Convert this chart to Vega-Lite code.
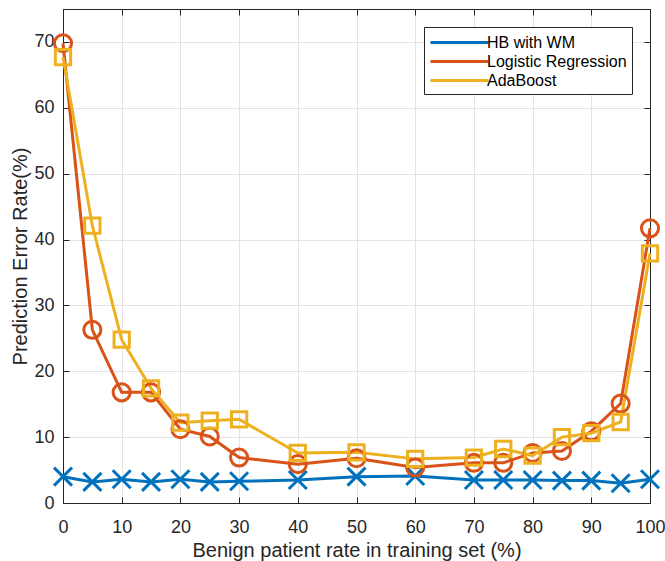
{
  "$schema": "https://vega.github.io/schema/vega-lite/v6.json",
  "width": 587,
  "height": 494,
  "autosize": {"type": "none"},
  "padding": {"left": 63, "top": 9, "right": 15, "bottom": 58},
  "background": "white",
  "config": {
    "font": "Liberation Sans",
    "view": {"stroke": "#262626", "strokeWidth": 1},
    "axis": {
      "domainColor": "#262626",
      "tickColor": "#262626",
      "labelColor": "#262626",
      "titleColor": "#262626",
      "gridColor": "#e3e3e3",
      "labelFont": "Liberation Sans",
      "titleFont": "Liberation Sans",
      "labelFontSize": 18,
      "titleFontSize": 20,
      "titleFontWeight": "normal",
      "labelFlush": false,
      "tickSize": -6,
      "tickWidth": 1
    }
  },
  "data": {
    "values": [
      {"x": 0, "method": "HB with WM", "y": 4.0},
      {"x": 5, "method": "HB with WM", "y": 3.2},
      {"x": 10, "method": "HB with WM", "y": 3.6},
      {"x": 15, "method": "HB with WM", "y": 3.2},
      {"x": 20, "method": "HB with WM", "y": 3.6},
      {"x": 25, "method": "HB with WM", "y": 3.2},
      {"x": 30, "method": "HB with WM", "y": 3.3},
      {"x": 40, "method": "HB with WM", "y": 3.5},
      {"x": 50, "method": "HB with WM", "y": 4.0},
      {"x": 60, "method": "HB with WM", "y": 4.1},
      {"x": 70, "method": "HB with WM", "y": 3.5},
      {"x": 75, "method": "HB with WM", "y": 3.5},
      {"x": 80, "method": "HB with WM", "y": 3.5},
      {"x": 85, "method": "HB with WM", "y": 3.4},
      {"x": 90, "method": "HB with WM", "y": 3.4},
      {"x": 95, "method": "HB with WM", "y": 3.0},
      {"x": 100, "method": "HB with WM", "y": 3.6},
      {"x": 0, "method": "Logistic Regression", "y": 69.8},
      {"x": 5, "method": "Logistic Regression", "y": 26.3},
      {"x": 10, "method": "Logistic Regression", "y": 16.8},
      {"x": 15, "method": "Logistic Regression", "y": 16.8},
      {"x": 20, "method": "Logistic Regression", "y": 11.2},
      {"x": 25, "method": "Logistic Regression", "y": 10.1},
      {"x": 30, "method": "Logistic Regression", "y": 6.9},
      {"x": 40, "method": "Logistic Regression", "y": 5.9},
      {"x": 50, "method": "Logistic Regression", "y": 6.8},
      {"x": 60, "method": "Logistic Regression", "y": 5.4},
      {"x": 70, "method": "Logistic Regression", "y": 6.1},
      {"x": 75, "method": "Logistic Regression", "y": 6.1},
      {"x": 80, "method": "Logistic Regression", "y": 7.6},
      {"x": 85, "method": "Logistic Regression", "y": 7.9},
      {"x": 90, "method": "Logistic Regression", "y": 10.9},
      {"x": 95, "method": "Logistic Regression", "y": 15.1},
      {"x": 100, "method": "Logistic Regression", "y": 41.7},
      {"x": 0, "method": "AdaBoost", "y": 67.7},
      {"x": 5, "method": "AdaBoost", "y": 42.1},
      {"x": 10, "method": "AdaBoost", "y": 24.8},
      {"x": 15, "method": "AdaBoost", "y": 17.4},
      {"x": 20, "method": "AdaBoost", "y": 12.2},
      {"x": 25, "method": "AdaBoost", "y": 12.5},
      {"x": 30, "method": "AdaBoost", "y": 12.7},
      {"x": 40, "method": "AdaBoost", "y": 7.6},
      {"x": 50, "method": "AdaBoost", "y": 7.7},
      {"x": 60, "method": "AdaBoost", "y": 6.7},
      {"x": 70, "method": "AdaBoost", "y": 6.9},
      {"x": 75, "method": "AdaBoost", "y": 8.2},
      {"x": 80, "method": "AdaBoost", "y": 7.2},
      {"x": 85, "method": "AdaBoost", "y": 10.0},
      {"x": 90, "method": "AdaBoost", "y": 10.6},
      {"x": 95, "method": "AdaBoost", "y": 12.3},
      {"x": 100, "method": "AdaBoost", "y": 37.9}
    ]
  },
  "resolve": {"axis": {"x": "independent", "y": "independent"}},
  "layer": [
    {
      "encoding": {
        "x": {
          "field": "x",
          "type": "quantitative",
          "scale": {"domain": [0, 100], "nice": false},
          "axis": {
            "title": "Benign patient rate in training set (%)",
            "values": [0, 10, 20, 30, 40, 50, 60, 70, 80, 90, 100],
            "labelPadding": 21,
            "titlePadding": 4
          }
        },
        "y": {
          "field": "y",
          "type": "quantitative",
          "scale": {"domain": [0, 75], "nice": false},
          "axis": {
            "title": "Prediction Error Rate(%)",
            "values": [0, 10, 20, 30, 40, 50, 60, 70],
            "labelPadding": 15,
            "titlePadding": 3
          }
        },
        "color": {
          "field": "method",
          "type": "nominal",
          "sort": ["HB with WM", "Logistic Regression", "AdaBoost"],
          "scale": {
            "domain": ["HB with WM", "Logistic Regression", "AdaBoost"],
            "range": ["#0072BD", "#D95319", "#EDB120"]
          },
          "legend": {
            "title": null,
            "orient": "top-right",
            "offset": 18,
            "fillColor": "white",
            "strokeColor": "#262626",
            "padding": 5,
            "labelFont": "Liberation Sans",
            "labelFontSize": 16,
            "labelColor": "#000000",
            "labelOffset": 37,
            "rowPadding": -2,
            "symbolSize": 324,
            "symbolStrokeWidth": 3,
            "symbolFillColor": "transparent",
            "encode": {
              "symbols": {
                "update": {
                  "shape": {"value": "M-1,0H5.44"}
                }
              }
            }
          }
        }
      },
      "layer": [
        {
          "mark": {"type": "line", "strokeWidth": 3}
        },
        {
          "transform": [{"filter": "datum.method === 'HB with WM'"}],
          "mark": {"type": "point", "filled": false, "strokeWidth": 3, "size": 324, "opacity": 1, "shape": "M-1,-1L1,1M1,-1L-1,1"}
        },
        {
          "transform": [{"filter": "datum.method === 'Logistic Regression'"}],
          "mark": {"type": "point", "filled": false, "strokeWidth": 3, "size": 324, "opacity": 1, "shape": "M0.95,0A0.95,0.95 0 1,1 -0.95,0A0.95,0.95 0 1,1 0.95,0Z"}
        },
        {
          "transform": [{"filter": "datum.method === 'AdaBoost'"}],
          "mark": {"type": "point", "filled": false, "strokeWidth": 3, "size": 324, "opacity": 1, "shape": "M-0.85,-0.85H0.85V0.85H-0.85Z"}
        }
      ]
    },
    {
      "mark": {"type": "point", "opacity": 0},
      "encoding": {
        "x": {"field": "x", "type": "quantitative", "scale": {"domain": [0, 100], "nice": false}, "axis": {"labels": false, "title": null, "grid": false, "values": [0, 10, 20, 30, 40, 50, 60, 70, 80, 90, 100]}},
        "y": {"field": "y", "type": "quantitative", "scale": {"domain": [0, 75], "nice": false}, "axis": {"labels": false, "title": null, "grid": false, "values": [0, 10, 20, 30, 40, 50, 60, 70]}}
      }
    }
  ]
}
